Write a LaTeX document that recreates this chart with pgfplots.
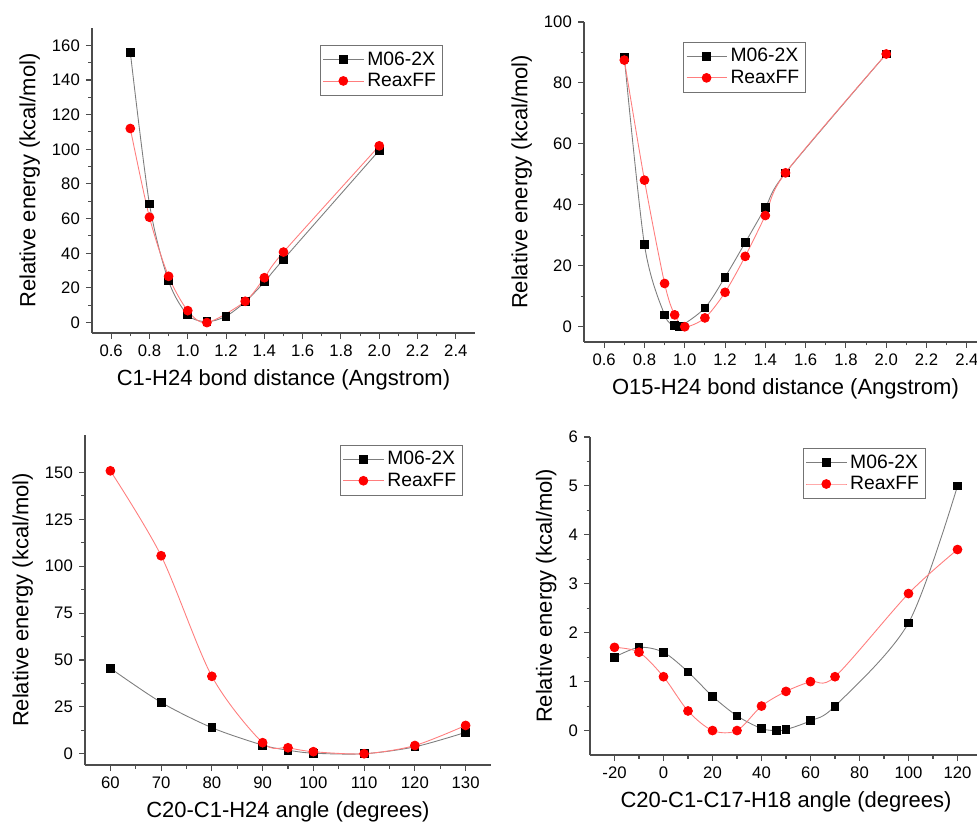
\documentclass[border=0pt]{standalone}
\usepackage{fontspec}
\setmainfont{Liberation Sans}
\usepackage{pgfplots}
\pgfplotsset{compat=1.18}
\definecolor{mline}{RGB}{125,125,125}
\definecolor{rline}{RGB}{255,125,125}

\pgfplotsset{
  energy/.style={
    scale only axis,
    axis x line*=bottom, axis y line*=left,
    axis line style={draw=black!70, line width=0.8pt},
    tick style={draw=black!70, line width=0.6pt},
    tick align=outside,
    major tick length=0.12cm, minor tick length=0.07cm,
    minor x tick num=1, minor y tick num=1,
    tick label style={font=\fontsize{9.5}{11}\selectfont},
    label style={font=\fontsize{12.5}{14}\selectfont},
    /pgf/number format/assume math mode=true,
    legend style={draw=black!55, font=\fontsize{11}{13}\selectfont,
                  anchor=north west, inner sep=1.5pt, row sep=-1pt},
    legend cell align=left,
    legend image code/.code={\draw[mark repeat=2,mark phase=2,##1]
      plot coordinates {(0cm,0cm) (0.4cm,0cm) (0.8cm,0cm)};},
    ylabel={Relative energy (kcal/mol)},
  },
  mset/.style={color=mline, line width=0.5pt, smooth, tension=0.5,
    mark=square*, mark size=2.2pt, mark options={draw=black, fill=black}},
  rset/.style={color=rline, line width=0.5pt, smooth, tension=0.5,
    mark=*, mark size=2.5pt, mark options={draw=red, fill=red}},
}

\begin{document}
\begin{tikzpicture}
\useasboundingbox (0,0) rectangle (19.54cm,16.48cm);

% C1-H24 bond
\begin{axis}[energy, at={(1.84cm,9.82cm)}, anchor=south west,
    width=7.66cm, height=6.1cm,
    xmin=0.5, xmax=2.5, ymin=-6, ymax=170,
    xtick={0.6,0.8,...,2.41}, xticklabels={0.6,0.8,1.0,1.2,1.4,1.6,1.8,2.0,2.2,2.4},
    ytick={0,20,...,160},
    xlabel={C1-H24 bond distance (Angstrom)},
    legend style={at={(0.595,0.944)}}]
  \addplot[mset] coordinates {(0.7,156)(0.8,68.5)(0.9,24)(1.0,4.4)(1.1,0.5)(1.2,3.7)(1.3,12)(1.4,23.4)(1.5,36.5)(2.0,99.4)};
  \addplot[rset] coordinates {(0.7,112)(0.8,60.8)(0.9,26.7)(1.0,6.9)(1.1,0)(1.3,12.3)(1.4,25.9)(1.5,40.7)(2.0,102)};
  \legend{M06-2X, ReaxFF}
\end{axis}

% O15-H24 bond
\begin{axis}[energy, at={(11.68cm,9.64cm)}, anchor=south west,
    width=8.06cm, height=6.4cm,
    xmin=0.5, xmax=2.5, ymin=-5, ymax=100,
    xtick={0.6,0.8,...,2.41}, xticklabels={0.6,0.8,1.0,1.2,1.4,1.6,1.8,2.0,2.2,2.4},
    ytick={0,20,...,100},
    xlabel={O15-H24 bond distance (Angstrom)},
    legend style={at={(0.246,0.9375)}}]
  \addplot[mset] coordinates {(0.7,88.4)(0.8,26.9)(0.9,3.9)(0.95,0.5)(0.975,0)(1.1,6.2)(1.2,16.3)(1.3,27.6)(1.4,39.1)(1.5,50.5)(2.0,89.5)};
  \addplot[rset] coordinates {(0.7,87.5)(0.8,48.1)(0.9,14.2)(0.95,3.9)(1.0,0)(1.1,2.9)(1.2,11.3)(1.3,23.1)(1.4,36.5)(1.5,50.5)(2.0,89.5)};
  \legend{M06-2X, ReaxFF}
\end{axis}

% C20-C1-H24 angle
\begin{axis}[energy, at={(1.7cm,1.18cm)}, anchor=south west,
    width=8.12cm, height=6.6cm,
    xmin=55, xmax=135, ymin=-6, ymax=170,
    xtick={60,70,...,130},
    ytick={0,25,...,150},
    xlabel={C20-C1-H24 angle (degrees)},
    legend style={at={(0.628,0.97)}}]
  \addplot[mset] coordinates {(60,45.6)(70,27.4)(80,13.9)(90,4.6)(95,1.9)(100,0.3)(110,0)(120,3.7)(130,11.4)};
  \addplot[rset] coordinates {(60,150.9)(70,105.6)(80,41.3)(90,5.9)(95,3.2)(100,1.1)(110,0)(120,4.4)(130,15.1)};
  \legend{M06-2X, ReaxFF}
\end{axis}

% C20-C1-C17-H18 angle
\begin{axis}[energy, at={(11.8cm,1.38cm)}, anchor=south west,
    width=7.84cm, height=6.36cm,
    xmin=-30, xmax=130, ymin=-0.5, ymax=6,
    xtick={-20,0,...,120}, xticklabels={-20,0,20,40,60,80,100,120},
    ytick={0,1,...,6},
    xlabel={C20-C1-C17-H18 angle (degrees)},
    legend style={at={(0.543,0.965)}}]
  \addplot[mset] coordinates {(-20,1.5)(-10,1.7)(0,1.6)(10,1.2)(20,0.7)(30,0.3)(40,0.04)(46,0)(50,0.02)(60,0.2)(70,0.5)(100,2.2)(120,5.0)};
  \addplot[rset] coordinates {(-20,1.7)(-10,1.6)(0,1.1)(10,0.4)(20,0)(30,0)(40,0.5)(50,0.8)(60,1.0)(70,1.1)(100,2.8)(120,3.7)};
  \legend{M06-2X, ReaxFF}
\end{axis}
\end{tikzpicture}
\end{document}
